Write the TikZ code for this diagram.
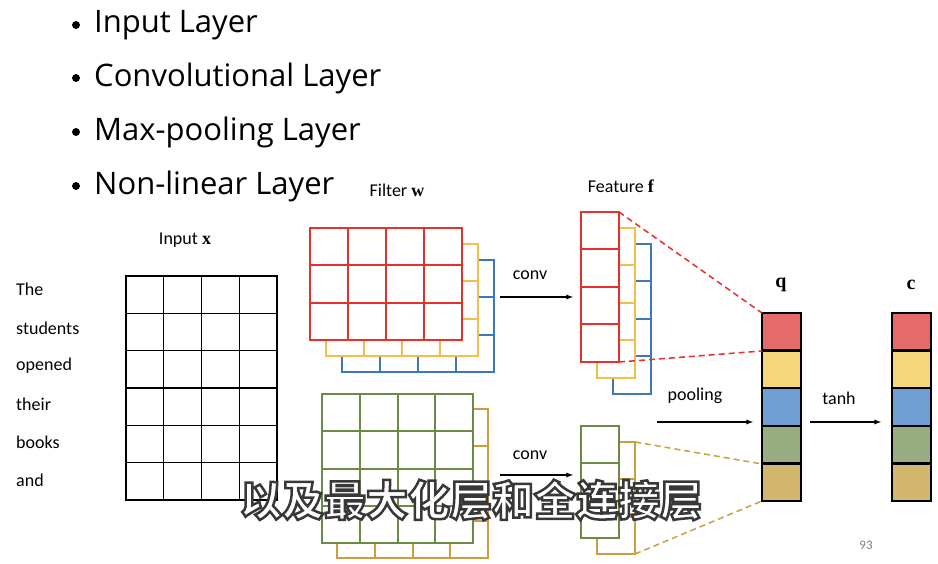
\documentclass[tikz,border=0pt]{standalone}
\usepackage{fontspec}
\setmainfont{Carlito}
\newfontfamily\cjk{Noto Sans CJK SC}
\newfontfamily\serifb{Liberation Serif}
\newfontfamily\bulf{Open Sans}
\begin{document}
\begin{tikzpicture}[x=1pt,y=-1pt,
  lbl/.style={font=\fontsize{18}{20}\selectfont, inner sep=0},
  wrd/.style={font=\fontsize{18}{20}\selectfont, anchor=west, inner sep=0},
  bul/.style={font=\bulf\fontsize{31}{33}\selectfont, anchor=west, inner sep=0},
  vec/.style={font=\serifb\bfseries\fontsize{20}{22}\selectfont, inner sep=0},
  arr/.style={-latex, line width=1.3pt},
  dsh/.style={dash pattern=on 6pt off 4pt, line width=1.5pt},
  lw/.style={line width=2pt}]
\definecolor{cR}{HTML}{E8302A}\definecolor{cY}{HTML}{F0C04A}\definecolor{cB}{HTML}{3A78C0}
\definecolor{cG}{HTML}{6B8A45}\definecolor{cT}{HTML}{C8A040}
\definecolor{fR}{HTML}{E56B6B}\definecolor{fY}{HTML}{F5D67A}\definecolor{fB}{HTML}{6F9FD2}
\definecolor{fG}{HTML}{98AD82}\definecolor{fT}{HTML}{D4B76E}
\useasboundingbox (0,0) rectangle (938,564);
\fill[white] (0,0) rectangle (938,564);
% bullets
\foreach \t/\y [count=\i] in {Input Layer/25,Convolutional Layer/78,Max-pooling Layer/132,Non-linear Layer/186}{
  \node[circle,fill=black,inner sep=2.8pt] (b\i) at (76,\y) {};
  \node[bul] (bt\i) at (94,\y) {\t};}
% words
\foreach \t/\y [count=\i] in {The/289,students/328,opened/366,their/404,books/442,and/480}
  \node[wrd] (w\i) at (16,\y) {\t};
\node[lbl] (lx) at (185,240) {Input \textbf{\serifb x}};
\node[lbl] (lw) at (397,190) {Filter \textbf{\serifb w}};
\node[lbl] (lf) at (621,186) {Feature \textbf{\serifb f}};
% input grid
\draw[line width=1.3pt] (126,276) rectangle (277,500);
\foreach \i in {1,2,3} \draw[line width=1.3pt] (126+37.75*\i,276) -- (126+37.75*\i,500);
\foreach \i in {1,...,5} \draw[line width=1.3pt] (126,276+37.33*\i) -- (277,276+37.33*\i);
% filters: blue, yellow, red
\foreach \o/\c in {32/cB,16/cY}{
  \fill[white] (310+\o,228+\o) rectangle (462+\o,340+\o);
  \draw[\c,lw] (310+\o,228+\o) rectangle (462+\o,340+\o);
  \foreach \i in {1,2,3} \draw[\c,lw] (310+\o+38*\i,228+\o) -- (310+\o+38*\i,340+\o);
  \foreach \i in {1,2} \draw[\c,lw] (310+\o,228+\o+37.33*\i) -- (462+\o,228+\o+37.33*\i);}
\fill[white] (310,228) rectangle (462,340);
\draw[cR,lw] (310,228) rectangle (462,340);
\foreach \i in {1,2,3} \draw[cR,lw] (310+38*\i,228) -- (310+38*\i,340);
\foreach \i in {1,2} \draw[cR,lw] (310,228+37.33*\i) -- (462,228+37.33*\i);
% green filter
\draw[cT,lw] (337,409) rectangle (488,558);
\foreach \i in {1,2,3} \draw[cT,lw] (337+37.75*\i,409) -- (337+37.75*\i,558);
\foreach \i in {1,2,3} \draw[cT,lw] (337,409+37.25*\i) -- (488,409+37.25*\i);
\fill[white] (322,394) rectangle (473,543);
\draw[cG,lw] (322,394) rectangle (473,543);
\foreach \i in {1,2,3} \draw[cG,lw] (322+37.75*\i,394) -- (322+37.75*\i,543);
\foreach \i in {1,2,3} \draw[cG,lw] (322,394+37.25*\i) -- (473,394+37.25*\i);
% features
\foreach \o/\c in {32/cB,16/cY}{
  \fill[white] (581+\o,212+\o) rectangle (619+\o,362+\o);
  \draw[\c,lw] (581+\o,212+\o) rectangle (619+\o,362+\o);
  \foreach \i in {1,2,3} \draw[\c,lw] (581+\o,212+\o+37.5*\i) -- (619+\o,212+\o+37.5*\i);}
\fill[white] (581,212) rectangle (619,362);
\draw[cR,lw] (581,212) rectangle (619,362);
\foreach \i in {1,2,3} \draw[cR,lw] (581,212+37.5*\i) -- (619,212+37.5*\i);
\draw[cT,lw] (597,442) rectangle (635,554);
\foreach \i in {1,2} \draw[cT,lw] (597,442+37.33*\i) -- (635,442+37.33*\i);
\fill[white] (581,426) rectangle (619,538);
\draw[cG,lw] (581,426) rectangle (619,538);
\foreach \i in {1,2} \draw[cG,lw] (581,426+37.33*\i) -- (619,426+37.33*\i);
% q and c
\foreach \x/\n in {762/q,892/c}{
  \foreach \f [count=\i] in {fR,fY,fB,fG,fT}
    \draw[fill=\f,line width=2.5pt] (\x,313+37.6*\i-37.6) rectangle (\x+39,313+37.6*\i);}
\coordinate (q1) at (762,313); \coordinate (q2) at (762,351);
\coordinate (q4) at (762,464); \coordinate (q5) at (762,501);
\coordinate (f1) at (619,212); \coordinate (f2) at (619,362);
\coordinate (g1) at (635,442); \coordinate (g2) at (635,554);
\draw[dsh,cR] (f1) -- (q1); \draw[dsh,cR] (f2) -- (q2);
\draw[dsh,cT] (g1) -- (q4); \draw[dsh,cT] (g2) -- (q5);
\node[vec] (lq) at (781,285) {q};
\node[vec] (lc) at (911,285) {c};
% arrows
\coordinate (a1) at (500,297); \coordinate (a2) at (573,297);
\coordinate (a3) at (500,475); \coordinate (a4) at (573,475);
\coordinate (a5) at (657,422); \coordinate (a6) at (753,422);
\coordinate (a7) at (810,422); \coordinate (a8) at (881,422);
\draw[arr] (a1) -- (a2); \draw[arr] (a3) -- (a4);
\draw[arr] (a5) -- (a6); \draw[arr] (a7) -- (a8);
\node[lbl] (l1) at (530,275) {conv};
\node[lbl] (l2) at (530,455) {conv};
\node[lbl] (l3) at (695,396) {pooling};
\node[lbl] (l4) at (839,398) {tanh};
\node[font=\fontsize{13}{14}\selectfont,text=gray,inner sep=0] (pg) at (866,545) {93};
% subtitle
\node[font=\cjk\bfseries\fontsize{42}{44}\selectfont,inner sep=0] (sub) at (471,500)
  {\color{white}\special{pdf:literal direct 2 Tr 2.5 w 0.22 0.22 0.22 RG}以及最大化层和全连接层\special{pdf:literal direct 0 Tr}};
\end{tikzpicture}
\end{document}
